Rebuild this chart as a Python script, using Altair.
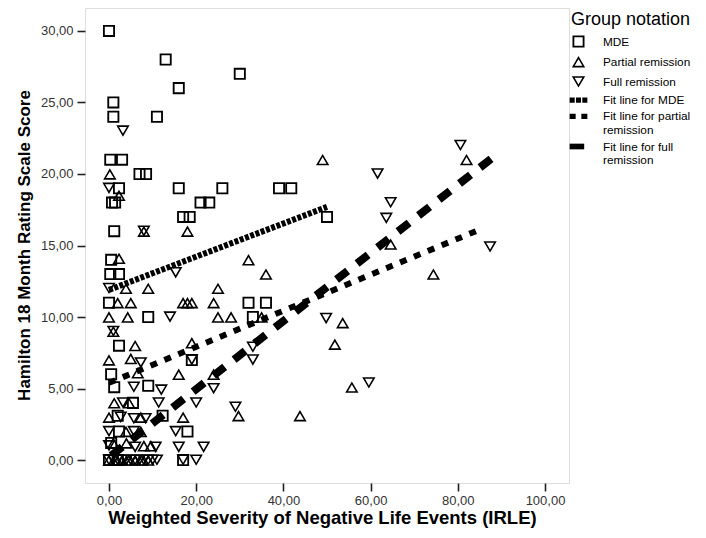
import altair as alt
import pandas as pd

# ---------------- data ----------------
mde_x = [0, 13, 30, 16, 1, 1, 11, 0.3, 3, 7, 8.5, 2.3, 16, 26, 39, 41.8, 0.7, 1.4, 21, 23,
         17, 18.5, 50, 1.2, 0.5, 0.3, 2.3, 0, 9, 32, 36, 33, 2.3, 19, 0.5, 1.2, 9, 5.5,
         12.3, 2, 18, 2.3, 0.5, 17, 0, 2]
mde_y = [30, 28, 27, 26, 25, 24, 24, 21, 21, 20, 20, 19, 19, 19, 19, 19, 18, 18, 18, 18,
         17, 17, 17, 16, 14, 13, 13, 11, 10, 11, 11, 10, 8, 7, 6, 5.1, 5.2, 4,
         3.1, 3.1, 2, 2, 1.2, 0, 0, 0]

partial_x = [49, 82, 0.2, 2.3, 8, 18, 64.6, 74.4, 36, 32, 2.3, 25, 3.9, 9, 17, 18, 19, 24,
             2, 5, 25, 28, 35, 0, 4.3, 1, 53.6, 51.8, 19, 6, 0, 5, 6.6, 16, 24, 55.7,
             43.8, 29.7, 17, 1.2, 4.6, 0, 7.3, 3.9, 7.3, 1, 4, 8, 9.6,
             0, 1.5, 3, 4.5, 6, 7.5, 9]
partial_y = [21, 21, 20, 18.5, 16, 16, 15.1, 13, 13, 14, 14.1, 12, 12, 12, 11, 11, 11, 11,
             11, 11, 10, 10, 10, 10, 10, 9, 9.6, 8.1, 8.2, 8, 7, 7.1, 6.1, 6, 6, 5.1,
             3.1, 3.1, 3, 4, 4, 3, 3, 2, 2, 1.2, 1.2, 1, 1,
             0, 0, 0, 0, 0, 0, 0]

full_x = [80.6, 3.2, 61.6, 0, 64.6, 63.6, 87.4, 8, 15.3, 0, 14, 49.8, 59.6, 1, 7.3, 5.7,
          12, 33, 33, 19, 24, 20, 29, 3.2, 11.4, 2.7, 5.7, 8.4, 15.3, 0, 5.7, 0, 6,
          10.7, 16, 21.7, 17, 20, 0, 1, 2, 3, 4, 5, 6, 7, 8, 9, 10, 11]
full_y = [22, 23, 20, 19, 18, 16.9, 14.9, 16, 13.1, 12, 10, 9.9, 5.4, 9, 6.8, 5.1,
          4.9, 7.9, 7, 7, 5, 4, 3.7, 4, 4, 3, 2.9, 2.9, 2, 2, 2, 1, 0.9,
          0.9, 0.9, 0.9, 0, 0, 0, 0, 0, 0, 0, 0, 0, 0, 0, 0, 0, 0]

# fitted lines: start x, end x, intercept, slope
fit_mde = {"x0": 0, "x1": 50, "b": 11.9, "m": 0.116}
fit_partial = {"x0": 0, "x1": 84.5, "b": 5.4, "m": 0.126}
fit_full = {"x0": 0.5, "x1": 87.7, "b": 0.2, "m": 0.238}

x_ticks = [0, 20, 40, 60, 80, 100]
y_ticks = [0, 5, 10, 15, 20, 25, 30]

groups = ["MDE", "Partial remission", "Full remission"]
fit_names = ["Fit line for MDE", "Fit line for partial remission", "Fit line for full remission"]

# ---------------- tables ----------------
pts = pd.concat([
    pd.DataFrame({"x": mde_x, "y": mde_y, "group": groups[0]}),
    pd.DataFrame({"x": partial_x, "y": partial_y, "group": groups[1]}),
    pd.DataFrame({"x": full_x, "y": full_y, "group": groups[2]}),
], ignore_index=True)


def fit_df(f, name):
    return pd.DataFrame({
        "x": [f["x0"], f["x1"]],
        "y": [f["b"] + f["m"] * f["x0"], f["b"] + f["m"] * f["x1"]],
        "fit": name,
    })


FONT = "Liberation Sans"
legend_domain = groups + fit_names
# hollow symbols drawn as filled rings, line keys drawn as filled blocks
shape_range = [
    "M-0.95,-0.95L0.95,-0.95L0.95,0.95L-0.95,0.95Z M-0.66,-0.66L-0.66,0.66L0.66,0.66L0.66,-0.66Z",
    "M0,-0.9L1.05,0.9L-1.05,0.9Z M0,-0.403L-0.614,0.65L0.614,0.65Z",
    "M0,0.9L-1.05,-0.9L1.05,-0.9Z M0,0.403L0.614,-0.65L-0.614,-0.65Z",
    "M-1.4,-0.42L-0.6,-0.42L-0.6,0.42L-1.4,0.42Z M-0.4,-0.42L0.4,-0.42L0.4,0.42L-0.4,0.42Z M0.6,-0.42L1.4,-0.42L1.4,0.42L0.6,0.42Z",
    "M-1.4,-0.42L-0.45,-0.42L-0.45,0.42L-1.4,0.42Z M0.45,-0.42L1.4,-0.42L1.4,0.42L0.45,0.42Z",
    "M-1.4,-0.45L0.9,-0.45L0.9,0.45L-1.4,0.45Z",
]

label_expr = ("datum.label == 'Fit line for partial remission' ? ['Fit line for partial', 'remission'] : "
              "datum.label == 'Fit line for full remission' ? ['Fit line for full', 'remission'] : datum.label")

legend = alt.Legend(
    title="Group notation", orient="none", legendX=486, legendY=3,
    titleFont=FONT, titleFontSize=18, titleFontWeight="normal", titleColor="black",
    titlePadding=5, labelFont=FONT, labelFontSize=11.8, labelColor="black",
    labelOffset=17, rowPadding=1.2, symbolSize=160, symbolOpacity=1,
    padding=0, labelExpr=label_expr, labelLimit=200,
)

xscale = alt.Scale(domain=[-5.5, 105.5], nice=False, zero=False)
yscale = alt.Scale(domain=[-1.6, 31.6], nice=False, zero=False)
fmt = "replace(format(datum.value, '.2f'), '.', ',')"

xaxis = alt.Axis(values=x_ticks, labelExpr=fmt, grid=False, domain=False,
                 labelFont=FONT, labelFontSize=13, labelColor="#333333", labelPadding=3,
                 tickColor="#222222", tickWidth=1.6, tickSize=8,
                 title="Weighted Severity of Negative Life Events (IRLE)",
                 titleFont=FONT, titleFontWeight="bold", titleColor="black",
                 titleX=237, titleY=40, titleBaseline="alphabetic", titleFontSize=18.5)
yaxis = alt.Axis(values=y_ticks, labelExpr=fmt, grid=False, domain=False,
                 labelFont=FONT, labelFontSize=13, labelColor="#333333", labelPadding=4,
                 tickColor="#222222", tickWidth=1.6, tickSize=8,
                 title="Hamilton 18 Month Rating Scale Score",
                 titleFont=FONT, titleFontWeight="bold", titleColor="black",
                 titleX=-61, titleY=237, titleBaseline="middle", titleAngle=270, titleFontSize=17)

points = alt.Chart(pts).mark_point(filled=True, color="black", size=160, opacity=1).encode(
    x=alt.X("x:Q", scale=xscale, axis=xaxis),
    y=alt.Y("y:Q", scale=yscale, axis=yaxis),
    shape=alt.Shape("group:N", scale=alt.Scale(domain=legend_domain, range=shape_range), legend=legend),
)


def fit_layer(df, dash, width):
    return alt.Chart(df).mark_line(color="black", strokeDash=dash, strokeWidth=width, strokeCap="butt").encode(
        x=alt.X("x:Q", scale=xscale),
        y=alt.Y("y:Q", scale=yscale),
    )


chart = alt.layer(
    points,
    fit_layer(fit_df(fit_mde, fit_names[0]), [4, 1.6], 6),
    fit_layer(fit_df(fit_partial, fit_names[1]), [7, 8], 6),
    fit_layer(fit_df(fit_full, fit_names[2]), [14, 12], 8),
).properties(
    width=484, height=475,
    autosize=alt.AutoSizeParams(type="none"),
    padding={"left": 77, "top": 0, "right": 126, "bottom": 47},
).configure_view(
    fill="#F0F0F0", stroke="#6a6a6a", strokeWidth=1.5,
).configure(background="white")

chart.save("out.html", embed_options={"renderer": "svg", "actions": False})
